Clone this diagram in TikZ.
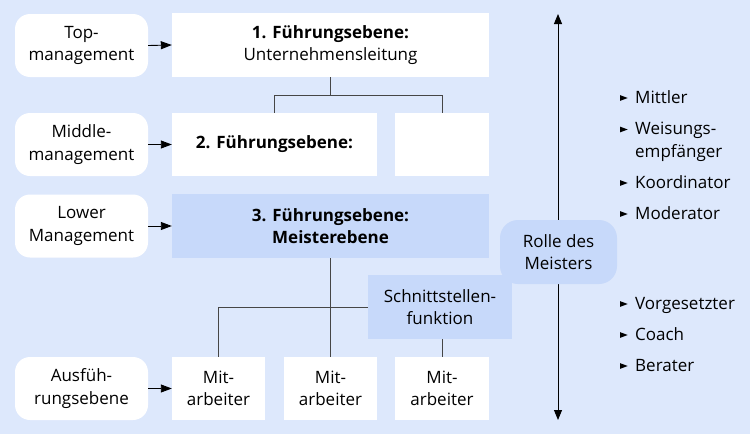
\documentclass[tikz,border=0pt]{standalone}
\usepackage{fontspec}
\setmainfont{Open Sans}
\usetikzlibrary{arrows.meta}
\definecolor{bg}{RGB}{221,232,252}
\definecolor{lb}{RGB}{199,217,250}
\definecolor{ln}{RGB}{70,70,70}
\newcommand{\tri}{\tikz[x=1pt,y=1pt,baseline=0pt]{\fill (0,2.2)--(7.5,5)--(0,7.8)--cycle;}}
\begin{document}
\begin{tikzpicture}[x=1pt,y=-1pt,
  every node/.style={font=\fontsize{17}{22.5}\selectfont, align=center, inner sep=0pt, text=black},
  lvl/.style={fill=white, rounded corners=15pt, minimum width=133pt, minimum height=63pt},
  box/.style={fill=white, minimum height=63pt},
  lbox/.style={fill=lb, minimum height=64pt},
  conn/.style={draw=ln, line width=0.9pt},
  arr/.style={draw=black, line width=0.9pt, -{Triangle[length=11pt,width=8pt]}},
  item/.style={anchor=base west, align=left}]
\fill[bg] (0,0) rectangle (750,434);
\useasboundingbox (0,0) rectangle (750,434);
% left level boxes
\node[lvl] (top) at (81.5,45.5) {Top-\\management};
\node[lvl] (mid) at (81.5,144.5) {Middle-\\management};
\node[lvl] (low) at (81.5,226) {Lower\\Management};
\node[lvl] (aus) at (81.5,388.5) {Ausfüh-\\rungsebene};
% main boxes
\node[box, minimum width=317pt, minimum height=64pt] (e1) at (330.5,45) {\textbf{1. Führungsebene:}\\Unternehmensleitung};
\node[box, minimum width=205pt] (e2) at (274.5,144.5) {\textbf{2. Führungsebene:}};
\node[box, minimum width=94pt] (e2b) at (442,144.5) {};
\node[lbox, minimum width=317pt] (e3) at (330.5,226) {\textbf{3. Führungsebene:}\\\textbf{Meisterebene}};
\node[lbox, minimum width=144pt] (sch) at (440,307) {Schnittstellen-\\funktion};
\node[box, minimum width=93pt] (m1) at (218.5,388.5) {Mit-\\arbeiter};
\node[box, minimum width=93pt] (m2) at (330.5,388.5) {Mit-\\arbeiter};
\node[box, minimum width=94pt] (m3) at (442,388.5) {Mit-\\arbeiter};
% arrows from levels
\draw[arr] (top.east) -- (e1.west);
\draw[arr] (mid.east) -- (e2.west);
\draw[arr] (low.east) -- (e3.west);
\draw[arr] (aus.east) -- (m1.west);
% connectors
\draw[conn] (e1.south) -- ++(0,18) -| (e2.north);
\draw[conn] (e1.south) ++(0,18) -| (e2b.north);
\draw[conn] (e3.south) -- (m2.north);
\draw[conn] (sch.west) -| (m1.north);
\draw[conn] (sch.south -| m3.north) -- (m3.north);
% role arrow
\coordinate (atop) at (558,14);
\coordinate (abot) at (558,420);
\draw[arr, {Triangle[length=10pt,width=8pt]}-{Triangle[length=10pt,width=8pt]}] (atop) -- (abot);
\node[fill=lb, rounded corners=18pt, minimum width=117pt, minimum height=64pt] (rolle) at (558.5,252) {Rolle des\\Meisters};
% bullet lists
\node[item] (b1) at (620,103) {\makebox[15pt][l]{\tri}Mittler};
\node[item] (b2) at (620,157) {\makebox[15pt][l]{\tri}Weisungs-\\\hspace*{15pt}empfänger};
\node[item] (b3) at (620,188) {\makebox[15pt][l]{\tri}Koordinator};
\node[item] (b4) at (620,219) {\makebox[15pt][l]{\tri}Moderator};
\node[item] (b5) at (620,309) {\makebox[15pt][l]{\tri}Vorgesetzter};
\node[item] (b6) at (620,340) {\makebox[15pt][l]{\tri}Coach};
\node[item] (b7) at (620,371) {\makebox[15pt][l]{\tri}Berater};
\end{tikzpicture}
\end{document}
